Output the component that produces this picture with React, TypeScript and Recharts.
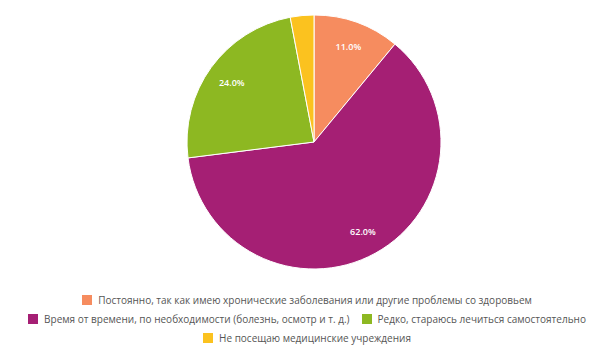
import React from 'react';
import { PieChart, Pie, Cell, Legend } from 'recharts';

const categories = [
  'Постоянно, так как имею хронические заболевания или другие проблемы со здоровьем',
  'Время от времени, по необходимости (болезнь, осмотр и т. д.)',
  'Редко, стараюсь лечиться самостоятельно',
  'Не посещаю медицинские учреждения',
];
const values = [11.0, 62.0, 24.0, 3.0];
const colors = ['#f68c5f', '#a51f74', '#8db822', '#fbc21f'];

const data = categories.map((name, i) => ({ name, value: values[i] }));

const FONT = '"Open Sans", "Noto Sans", sans-serif';
const RADIAN = Math.PI / 180;

const renderLabel = (props: any) => {
  const { cx, cy, midAngle, outerRadius, value } = props;
  if (value < 5) return null;
  const r = outerRadius * 0.8;
  const x = cx + r * Math.cos(-midAngle * RADIAN);
  const y = cy + r * Math.sin(-midAngle * RADIAN);
  return (
    <text x={x} y={y} fill="#ffffff" fontSize={9} fontWeight={600} fontFamily={FONT} textAnchor="middle" dominantBaseline="central">
      {value.toFixed(1)}%
    </text>
  );
};

const renderLegend = () => (
  <div
    style={{
      display: 'flex',
      flexWrap: 'wrap',
      justifyContent: 'center',
      width: 560,
      margin: '0 auto',
      fontFamily: FONT,
      fontSize: 10,
      color: '#555',
      rowGap: 0,
      columnGap: 12,
    }}
  >
    {data.map((d, i) => (
      <div key={d.name} style={{ display: 'flex', alignItems: 'center', height: 19, whiteSpace: 'nowrap' }}>
        <span style={{ display: 'inline-block', width: 10, height: 10, background: colors[i], marginRight: 6 }} />
        <span>{d.name}</span>
      </div>
    ))}
  </div>
);

export default function App() {
  return (
    <div style={{ position: 'absolute', left: 0, top: 0, background: '#fff' }}>
      <PieChart width={614} height={351} margin={{ top: 0, right: 0, bottom: 0, left: 0 }}>
        <Pie
          data={data}
          dataKey="value"
          nameKey="name"
          cx={314}
          cy={142}
          outerRadius={127}
          startAngle={90}
          endAngle={-270}
          stroke="#ffffff"
          strokeWidth={1}
          label={renderLabel}
          labelLine={false}
          isAnimationActive={false}
        >
          {data.map((d, i) => (
            <Cell key={d.name} fill={colors[i]} />
          ))}
        </Pie>
        <Legend content={renderLegend} wrapperStyle={{ top: 290, left: 0, width: 614 }} />
      </PieChart>
    </div>
  );
}
